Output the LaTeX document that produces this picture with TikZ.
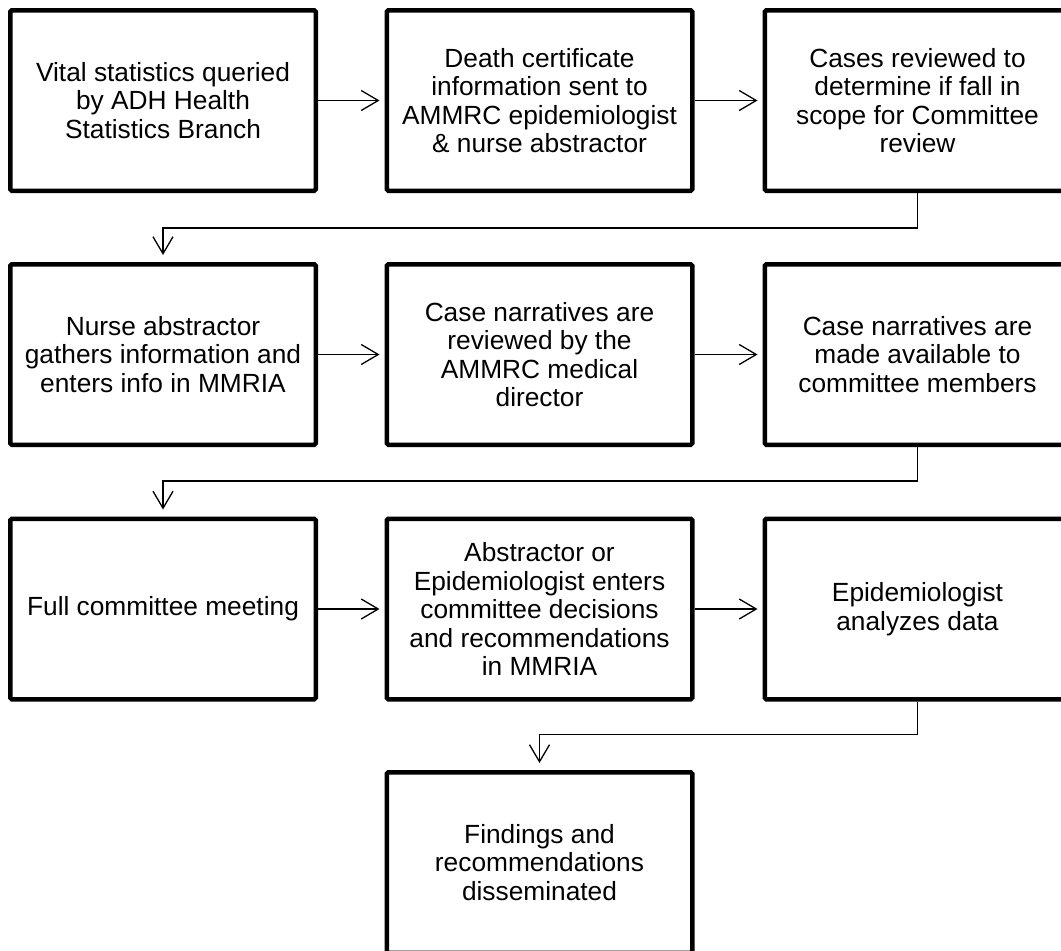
\documentclass[tikz,border=0pt]{standalone}
\usepackage{fontspec}
\setmainfont{Liberation Sans}
\usetikzlibrary{arrows.meta}
\begin{document}
\begin{tikzpicture}[x=1pt,y=-1pt,
  box/.style={draw, line width=4.5pt, rounded corners=1.5pt, minimum width=305.5pt, minimum height=180.5pt,
    align=center, inner sep=0pt, font=\fontsize{26.3}{28.5}\selectfont},
  conn/.style={line width=1.3pt, -{Straight Barb[length=17pt,width=20pt]}}]
\useasboundingbox (0,0) rectangle (1061,951);
\clip (0,0) rectangle (1061,951);
\node[box] (b1) at (163,100.5) {Vital statistics queried\\by ADH Health\\Statistics Branch};
\node[box] (b2) at (539.5,100.5) {Death certificate\\information sent to\\AMMRC epidemiologist\\\& nurse abstractor};
\node[box] (b3) at (917.5,100.5) {Cases reviewed to\\determine if fall in\\scope for Committee\\review};
\node[box] (b4) at (163,354.5) {Nurse abstractor\\gathers information and\\enters info in MMRIA};
\node[box] (b5) at (539.5,354.5) {Case narratives are\\reviewed by the\\AMMRC medical\\director};
\node[box] (b6) at (917.5,354.5) {Case narratives are\\made available to\\committee members};
\node[box] (b7) at (163,609) {Full committee meeting};
\node[box] (b8) at (539.5,609) {Abstractor or\\Epidemiologist enters\\committee decisions\\and recommendations\\in MMRIA};
\node[box] (b9) at (917.5,609) {Epidemiologist\\analyzes data};
\node[box] (b10) at (539.5,862.5) {Findings and\\recommendations\\disseminated};
\draw[conn, shorten >=5pt] (b1.east) -- (b2.west);
\draw[conn, shorten >=5pt] (b2.east) -- (b3.west);
\draw[conn, shorten >=5pt] (b4.east) -- (b5.west);
\draw[conn, shorten >=5pt] (b5.east) -- (b6.west);
\draw[conn, shorten >=5pt] (b7.east) -- (b8.west);
\draw[conn, shorten >=5pt] (b8.east) -- (b9.west);
\draw[conn, shorten >=7pt] (b3.south) -- ++(0,35) -| (b4.north);
\draw[conn, shorten >=7pt] (b6.south) -- ++(0,34) -| (b7.north);
\draw[conn, shorten >=7pt] (b9.south) -- ++(0,33) -| (b10.north);
\end{tikzpicture}
\end{document}
